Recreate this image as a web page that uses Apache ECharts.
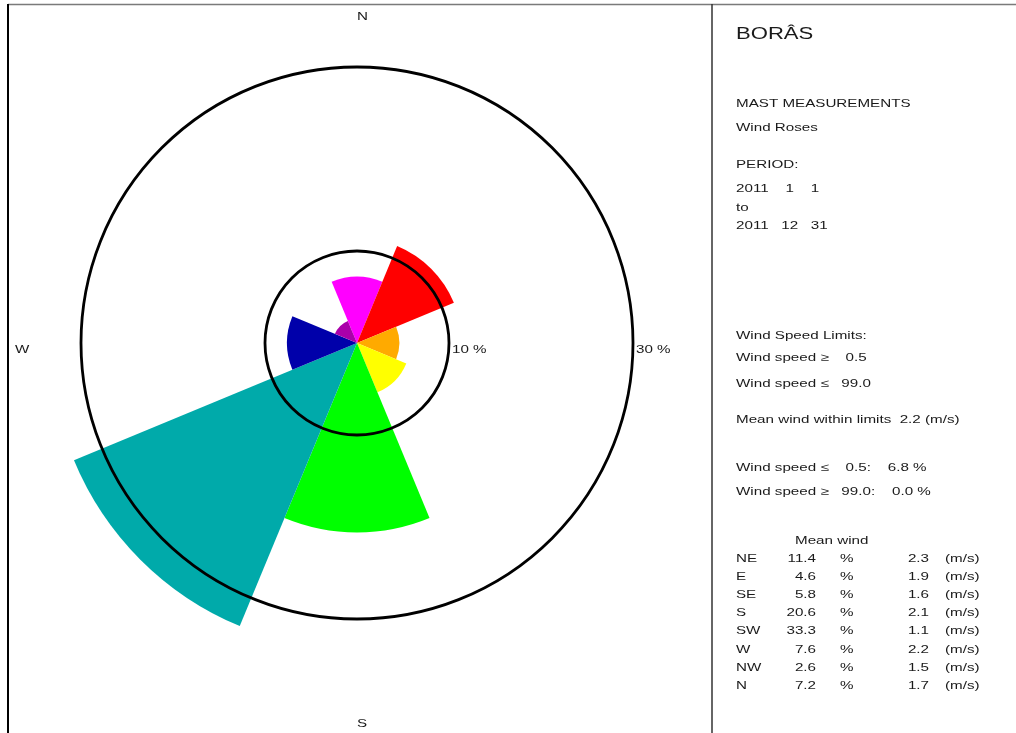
<!DOCTYPE html>
<html>
<head>
<meta charset="utf-8">
<script src="https://cdn.jsdelivr.net/npm/echarts@6/dist/echarts.min.js"></script>
<style>
  html, body { margin: 0; padding: 0; background: #ffffff; }
  #chart { width: 1016px; height: 733px; }
</style>
</head>
<body>
<div id="chart"></div>
<script>
// Wind rose, Borås mast 2011: share of time (%) and mean speed per 45° sector
const directions = ['N', 'NE', 'E', 'SE', 'S', 'SW', 'W', 'NW'];
const frequency = [7.2, 11.4, 4.6, 5.8, 20.6, 33.3, 7.6, 2.6];
const meanSpeed = [1.7, 2.3, 1.9, 1.6, 2.1, 1.1, 2.2, 1.5];
const sectorColors = ['#ff00ff', '#ff0000', '#ffaa00', '#ffff00', '#00ff00', '#00aaaa', '#0000aa', '#aa00aa'];
const ringValues = [10, 30];
const tableOrder = ['NE', 'E', 'SE', 'S', 'SW', 'W', 'NW', 'N'];

const FONT = '"Liberation Sans", Arial, sans-serif';
const STRETCH = 1.38;

function label(x, y, text, size, align) {
  return {
    type: 'text', x: x, y: y, scaleX: STRETCH, z: 50,
    style: {
      text: text, font: size + 'px ' + FONT, fill: '#1a1a1a',
      align: align || 'left', verticalAlign: 'middle',
      textAlign: align || 'left', textVerticalAlign: 'middle'
    }
  };
}

const chart = echarts.init(document.getElementById('chart'), null, { renderer: 'canvas' });

const CENTER = [357, 343];
const RADIUS = 368;   // radius of the 40 % extent
const RMAX = 40;

// side panel texts
const panel = [
  label(736, 35, 'BORÂS', 16),
  label(736, 104, 'MAST MEASUREMENTS', 11),
  label(736, 128, 'Wind Roses', 11),
  label(736, 165, 'PERIOD:', 11),
  label(736, 189, '2011    1    1', 11),
  label(736, 208, 'to', 11),
  label(736, 226, '2011   12   31', 11),
  label(736, 336, 'Wind Speed Limits:', 11),
  label(736, 358, 'Wind speed ≥    0.5', 11),
  label(736, 384, 'Wind speed ≤   99.0', 11),
  label(736, 420, 'Mean wind within limits  2.2 (m/s)', 11),
  label(736, 468, 'Wind speed ≤    0.5:    6.8 %', 11),
  label(736, 492, 'Wind speed ≥   99.0:    0.0 %', 11),
  label(795, 541, 'Mean wind', 11)
];
tableOrder.forEach(function (d, i) {
  const k = directions.indexOf(d);
  const y = 559 + i * 18.1;
  panel.push(label(736, y, d, 11));
  panel.push(label(816, y, frequency[k].toFixed(1), 11, 'right'));
  panel.push(label(840, y, '%', 11));
  panel.push(label(929, y, meanSpeed[k].toFixed(1), 11, 'right'));
  panel.push(label(945, y, '(m/s)', 11));
});

// compass letters and frame
const frame = [
  { type: 'line', z: 40, shape: { x1: 8, y1: 4.5, x2: 1016, y2: 4.5 }, style: { stroke: '#7a7a7a', lineWidth: 1.5 } },
  { type: 'line', z: 40, shape: { x1: 8, y1: 4, x2: 8, y2: 733 }, style: { stroke: '#000', lineWidth: 2 } },
  { type: 'line', z: 40, shape: { x1: 712, y1: 4, x2: 712, y2: 733 }, style: { stroke: '#333', lineWidth: 1.5 } },
  label(357, 17, 'N', 11),
  label(357, 724, 'S', 11),
  label(15, 350, 'W', 11)
];

chart.setOption({
  animation: false,
  backgroundColor: '#ffffff',
  polar: [
    { center: CENTER, radius: RADIUS },
    { center: CENTER, radius: RADIUS }
  ],
  angleAxis: [
    { polarIndex: 0, type: 'category', data: directions, startAngle: 112.5, clockwise: true, show: false },
    { polarIndex: 1, type: 'value', min: 0, max: 360, startAngle: 0, clockwise: true, show: false }
  ],
  radiusAxis: [
    { polarIndex: 0, type: 'value', min: 0, max: RMAX, show: false },
    {
      polarIndex: 1, type: 'value', min: 0, max: RMAX, interval: 10, z: 5,
      axisLine: { show: false }, axisTick: { show: false }, axisLabel: { show: false },
      splitLine: {
        show: true,
        lineStyle: {
          width: 2.8,
          // one colour per tick 0,10,20,30,40: only the 10 % and 30 % rings are drawn
          color: [0, 10, 20, 30, 40].map(function (v) {
            return ringValues.indexOf(v) >= 0 ? '#000000' : 'rgba(0,0,0,0)';
          })
        }
      }
    }
  ],
  series: [{
    type: 'bar',
    coordinateSystem: 'polar',
    polarIndex: 0,
    barCategoryGap: '0%',
    clip: false,
    data: frequency.map(function (v, i) {
      return { value: v, itemStyle: { color: sectorColors[i] } };
    })
  }],
  graphic: { elements: frame.concat(panel) }
});

// ring labels sit just outside each ring on the east side
const ringLabels = ringValues.map(function (v) {
  const p = chart.convertToPixel({ polarIndex: 1 }, [v, 0]);
  return label(p[0] + 3, p[1] + 7, v + ' %', 11);
});
chart.setOption({ graphic: { elements: frame.concat(panel, ringLabels) } }, { replaceMerge: ['graphic'] });
</script>
</body>
</html>
